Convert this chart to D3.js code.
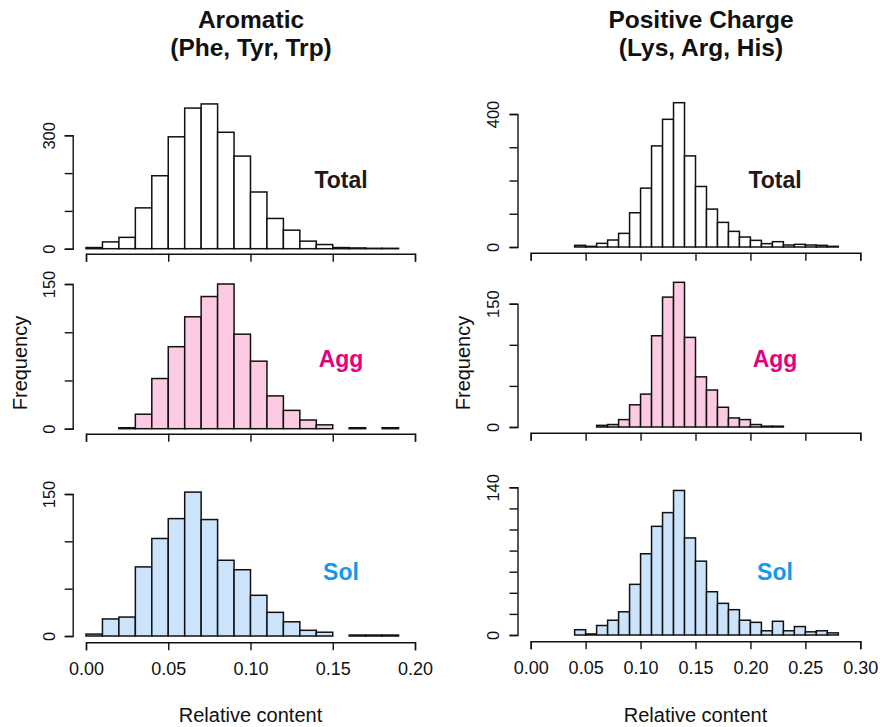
<!DOCTYPE html>
<html>
<head>
<meta charset="utf-8">
<script src="https://cdn.jsdelivr.net/npm/d3@7"></script>
<style>
  body { margin: 0; background: #ffffff; }
  svg { display: block; }
  text { font-family: "Liberation Sans", Arial, Helvetica, sans-serif; }
</style>
</head>
<body>
<svg id="chart" width="880" height="727"></svg>
<script>
// ---------------- DATA ----------------
const aromaticBins = [0.00,0.01,0.02,0.03,0.04,0.05,0.06,0.07,0.08,0.09,0.10,0.11,0.12,0.13,0.14,0.15,0.16,0.17,0.18];
const aromaticTotal = [3,18,30,108,193,296,372,383,308,245,150,80,49,20,11,3,2,1,1];
const aromaticAgg   = [0,0,1,15,52,85,116,137,150,98,70,34,19,9,4,0,1,0,1];
const aromaticSol   = [2,18,20,73,103,124,152,123,80,70,43,25,15,6,4,0,1,1,1];

const chargeBins = [0.04,0.05,0.06,0.07,0.08,0.09,0.10,0.11,0.12,0.13,0.14,0.15,0.16,0.17,0.18,0.19,0.20,0.21,0.22,0.23,0.24,0.25,0.26,0.27];
const chargeTotal = [5,2,11,21,41,103,177,304,384,434,274,182,114,74,47,30,20,10,16,6,8,6,5,2];
const chargeAgg   = [0,0,2,3,9,27,40,111,158,176,109,61,45,24,11,9,3,1,1,0,0,0,0,0];
const chargeSol   = [5,1,9,14,22,48,77,103,116,137,92,70,41,30,24,14,12,4,13,4,8,3,4,2];

const binWidth = 0.01;

const aromaticXTicks = [0.00,0.05,0.10,0.15,0.20];
const chargeXTicks   = [0.00,0.05,0.10,0.15,0.20,0.25,0.30];

const yTicksAromTotal = [0,100,200,300];
const yTicksAromAgg   = [0,50,100,150];
const yTicksAromSol   = [0,50,100,150];
const yTicksChgTotal  = [0,100,200,300,400];
const yTicksChgAgg    = [0,50,100,150];
const yTicksChgSol    = [0,20,40,60,80,100,120,140];

const titles = [["Aromatic","(Phe, Tyr, Trp)"],["Positive Charge","(Lys, Arg, His)"]];
const rowLabels = ["Total","Agg","Sol"];
const xTitle = "Relative content";
const yTitle = "Frequency";

// ---------------- STYLE / LAYOUT ----------------
const fills = ["#ffffff","#fccbe3","#cce4fb"];
const labelColors = ["#231815","#e5007f","#1598e8"];

const cols = [
  {bins: aromaticBins, xTicks: aromaticXTicks, xDomain:[0,0.2], xRange:[86,415], yAxisX:72.7, ylabOff:17.5, freqX:27,
   series:[aromaticTotal, aromaticAgg, aromaticSol], yTicks:[yTicksAromTotal,yTicksAromAgg,yTicksAromSol],
   y0:[248.7,428.7,636], yTop:[135.3,284,494], xAxisY:[253.7,433.7,642.3], labelX:341, titleX:251},
  {bins: chargeBins, xTicks: chargeXTicks, xDomain:[0,0.3], xRange:[530.7,860.3], yAxisX:517.5, ylabOff:19, freqX:470,
   series:[chargeTotal, chargeAgg, chargeSol], yTicks:[yTicksChgTotal,yTicksChgAgg,yTicksChgSol],
   y0:[247,427,635], yTop:[114,303.7,487.3], xAxisY:[252.7,432.7,641.3], labelX:775, titleX:701}
];
const labelY = [188, 367, 580];

const svg = d3.select("#chart");

cols.forEach((c, ci) => {
  const x = d3.scaleLinear().domain(c.xDomain).range(c.xRange);

  // titles
  svg.append("text").attr("x", c.titleX).attr("y", 28)
    .attr("text-anchor","middle").attr("font-size",24.5).attr("font-weight","bold")
    .attr("fill","#111").text(titles[ci][0]);
  svg.append("text").attr("x", c.titleX).attr("y", 56)
    .attr("text-anchor","middle").attr("font-size",24.5).attr("font-weight","bold")
    .attr("fill","#111").text(titles[ci][1]);

  c.series.forEach((vals, ri) => {
    const ticks = c.yTicks[ri];
    const yMax = ticks[ticks.length-1];
    const y = d3.scaleLinear().domain([0, yMax]).range([c.y0[ri], c.yTop[ri]]);
    const g = svg.append("g");

    // bars
    const data = c.bins.map((b,i) => ({x0:b, x1:b+binWidth, v:vals[i]})).filter(d => d.v > 0);
    g.selectAll("rect.bar").data(data).join("rect")
      .attr("class","bar")
      .attr("x", d => x(d.x0))
      .attr("width", d => x(d.x1) - x(d.x0))
      .attr("y", d => y(d.v))
      .attr("height", d => y(0) - y(d.v))
      .attr("fill", fills[ri])
      .attr("stroke", "#111")
      .attr("stroke-width", 1.5);

    // y axis
    const ya = g.append("g").attr("transform", `translate(${c.yAxisX},0)`)
      .call(d3.axisLeft(y).tickValues(ticks).tickSizeOuter(0).tickSize(8)
        .tickFormat((d,i) => (i===0 || i===ticks.length-1) ? String(d) : ""));
    ya.select(".domain").attr("stroke","#111").attr("stroke-width",1.4);
    ya.selectAll(".tick line").attr("stroke","#111").attr("stroke-width",1.4);
    ya.selectAll(".tick text")
      .attr("transform","rotate(-90)")
      .attr("x",0).attr("y",-c.ylabOff).attr("dy",0)
      .attr("text-anchor","middle")
      .attr("font-size",16.5).attr("fill","#111")
      .attr("font-family","Liberation Sans, Arial, sans-serif");

    // x axis
    const xa = g.append("g").attr("transform", `translate(0,${c.xAxisY[ri]})`)
      .call(d3.axisBottom(x).tickValues(c.xTicks).tickSizeOuter(0).tickSize(8)
        .tickFormat(d => ri === 2 ? d3.format(".2f")(d) : ""));
    xa.select(".domain").attr("stroke","#111").attr("stroke-width",1.4);
    xa.selectAll(".tick line").attr("stroke","#111").attr("stroke-width",1.4);
    xa.selectAll(".tick text")
      .attr("y",32.5).attr("dy",0)
      .attr("font-size",18).attr("fill","#111")
      .attr("font-family","Liberation Sans, Arial, sans-serif");

    // row label
    svg.append("text").attr("x", c.labelX).attr("y", labelY[ri])
      .attr("text-anchor","middle").attr("font-size",23).attr("font-weight","bold")
      .attr("fill", labelColors[ri]).text(rowLabels[ri]);
  });

  // Frequency label
  svg.append("text")
    .attr("transform", `translate(${c.freqX},363) rotate(-90)`)
    .attr("text-anchor","middle").attr("font-size",20).attr("fill","#111")
    .text(yTitle);

  // x title
  svg.append("text").attr("x", (c.xRange[0]+c.xRange[1])/2).attr("y", 722)
    .attr("text-anchor","middle").attr("font-size",20).attr("fill","#111")
    .text(xTitle);
});
</script>
</body>
</html>
